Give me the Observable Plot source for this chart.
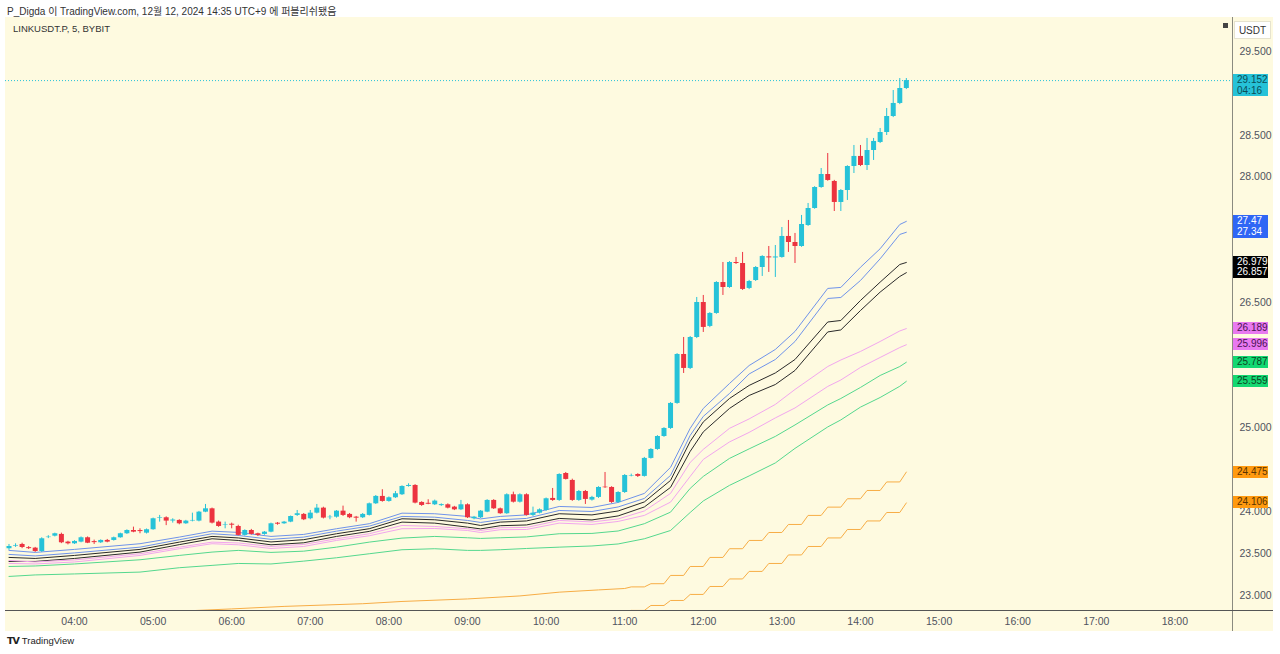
<!DOCTYPE html>
<html><head><meta charset="utf-8">
<script src="https://cdn.jsdelivr.net/npm/d3@7"></script>
<script src="https://cdn.jsdelivr.net/npm/@observablehq/plot@0.6"></script>
<style>
html,body{margin:0;padding:0;background:#fff;width:1280px;height:654px;overflow:hidden;font-family:"Liberation Sans",Arial,"Noto Sans CJK KR",sans-serif;}
#header{position:absolute;left:7px;top:3px;font-size:10px;color:#333;white-space:nowrap;}
#panel{position:absolute;left:5px;top:17px;width:1268px;height:614px;background:#fefae0;}
#panel svg{position:absolute;left:0;top:0;overflow:visible;}
#sym{position:absolute;left:8px;top:6px;font-size:9.5px;color:#333;}
#usdt{position:absolute;left:1229px;top:4px;width:37px;height:18px;background:#fff;border:1px solid #e6e3cf;box-sizing:border-box;font-size:10px;color:#333;text-align:center;line-height:17px;}
#sq{position:absolute;left:1218px;top:6px;width:5px;height:5px;background:#444;}
.vline{position:absolute;left:1227px;top:0;width:1px;height:614px;background:#8a8a80;}
.hline{position:absolute;left:0;top:593px;width:1268px;height:1px;background:#555;}
.badge{position:absolute;left:1228px;width:35px;height:12px;font-size:10px;line-height:12px;padding-left:4px;box-sizing:border-box;white-space:nowrap;}
#footer{position:absolute;left:7px;top:635px;font-size:9.5px;color:#222;white-space:nowrap;}
#footer b{font-family:"DejaVu Sans";font-weight:900;letter-spacing:-1px;margin-right:3px;}
</style></head>
<body>
<div id="header">P_Digda 이 TradingView.com, 12월 12, 2024 14:35 UTC+9 에 퍼블리쉬됐음</div>
<div id="panel">
  <div id="sym">LINKUSDT.P, 5, BYBIT</div>
</div>
<div id="footer"><b>TV</b>TradingView</div>
<script>
// ---- candle data (5-minute bars from 03:10) ----
const openV = [23.559,23.590,23.610,23.572,23.566,23.526,23.692,23.709,23.730,23.638,23.618,23.638,23.690,23.644,23.630,23.658,23.658,23.690,23.738,23.777,23.776,23.745,23.786,23.922,23.929,23.890,23.897,23.857,23.890,23.889,23.996,24.036,23.877,23.840,23.852,23.825,23.718,23.777,23.738,23.730,23.757,23.864,23.857,23.877,23.957,23.969,23.917,23.984,24.044,23.930,23.936,24.008,23.969,23.936,23.929,23.957,24.096,24.184,24.124,24.168,24.204,24.303,24.315,24.112,24.102,24.084,24.074,24.084,24.056,24.024,24.084,23.917,23.929,23.996,24.136,24.036,23.977,24.204,24.115,24.204,23.957,23.984,24.016,24.160,24.136,24.458,24.375,24.136,24.243,24.140,24.172,24.295,24.291,24.112,24.231,24.428,24.446,24.423,24.638,24.745,24.900,24.996,25.295,25.880,25.713,26.083,26.501,26.215,26.370,26.740,26.680,26.979,26.967,26.669,26.764,26.919,27.046,27.033,27.039,27.290,27.218,27.170,27.421,27.624,27.875,28.030,27.947,27.696,27.839,28.126,28.246,28.138,28.317,28.413,28.532,28.723,28.879,29.058];
const highV = [23.610,23.618,23.625,23.585,23.575,23.690,23.715,23.745,23.745,23.648,23.655,23.700,23.700,23.662,23.665,23.670,23.698,23.745,23.785,23.817,23.797,23.795,23.925,23.957,23.940,23.917,23.905,23.898,23.984,24.005,24.088,24.045,23.890,23.877,23.865,23.840,23.785,23.790,23.745,23.765,23.865,23.872,23.885,23.950,24.016,23.980,24.016,24.088,24.055,23.957,24.015,24.068,23.980,23.945,23.980,24.105,24.195,24.264,24.178,24.243,24.310,24.335,24.325,24.120,24.144,24.140,24.095,24.095,24.065,24.136,24.095,23.945,24.015,24.145,24.145,24.045,24.215,24.235,24.215,24.215,24.056,24.035,24.165,24.279,24.455,24.470,24.390,24.255,24.255,24.185,24.300,24.470,24.300,24.240,24.445,24.450,24.455,24.650,24.755,24.910,25.005,25.305,25.890,26.083,26.095,26.561,26.585,26.380,26.750,26.979,26.990,27.039,27.099,26.765,26.930,27.060,27.170,27.182,27.397,27.481,27.326,27.541,27.684,27.885,28.102,28.281,27.960,27.850,28.135,28.377,28.377,28.461,28.461,28.580,28.819,29.034,29.177,29.177];
const lowV = [23.540,23.575,23.560,23.550,23.515,23.515,23.680,23.700,23.620,23.605,23.610,23.630,23.620,23.610,23.622,23.630,23.650,23.685,23.730,23.750,23.738,23.735,23.780,23.877,23.835,23.865,23.845,23.850,23.880,23.880,23.990,23.855,23.815,23.797,23.797,23.710,23.710,23.722,23.705,23.720,23.750,23.840,23.850,23.870,23.945,23.895,23.905,23.975,23.915,23.905,23.925,23.945,23.918,23.877,23.920,23.950,24.088,24.115,24.115,24.160,24.195,24.295,24.095,24.065,24.085,24.075,24.065,24.035,24.015,24.015,23.920,23.905,23.920,23.990,24.028,23.970,23.970,24.105,24.105,23.950,23.945,23.975,24.005,24.125,24.125,24.380,24.125,24.125,24.088,24.128,24.160,24.280,24.100,24.100,24.220,24.418,24.410,24.415,24.630,24.735,24.890,24.985,25.285,25.653,25.700,26.070,26.143,26.200,26.360,26.585,26.670,26.955,26.645,26.655,26.752,26.812,26.860,26.800,27.030,27.099,26.967,27.160,27.410,27.615,27.865,27.950,27.588,27.588,27.720,28.042,28.125,28.078,28.198,28.400,28.496,28.710,28.865,29.045];
const closeV = [23.586,23.598,23.574,23.560,23.526,23.678,23.698,23.738,23.630,23.618,23.646,23.690,23.625,23.632,23.658,23.638,23.690,23.738,23.777,23.757,23.764,23.786,23.917,23.929,23.889,23.902,23.857,23.889,23.897,23.996,24.036,23.865,23.825,23.846,23.840,23.718,23.777,23.730,23.718,23.757,23.857,23.852,23.877,23.944,23.977,23.905,23.984,24.044,23.925,23.936,24.008,23.957,23.929,23.924,23.969,24.096,24.184,24.124,24.168,24.216,24.303,24.315,24.104,24.076,24.090,24.128,24.086,24.044,24.024,24.084,23.929,23.936,24.008,24.136,24.036,23.977,24.204,24.115,24.204,23.957,23.984,24.024,24.156,24.136,24.446,24.387,24.136,24.243,24.148,24.172,24.291,24.288,24.112,24.231,24.434,24.434,24.423,24.638,24.745,24.900,24.996,25.295,25.880,25.713,26.083,26.501,26.203,26.370,26.740,26.680,26.979,26.967,26.657,26.752,26.919,27.051,27.034,27.045,27.290,27.218,27.170,27.433,27.624,27.875,28.030,27.959,27.696,27.839,28.126,28.246,28.138,28.317,28.425,28.532,28.723,28.879,29.058,29.152];

// ---- indicator lines, sampled at these bar indices ----
const maBars = [0,4,10,20,26,31,35,40,45,50,55,60,65,70,72,75,79,84,89,93,97,101,104,106,110,113,117,120,125,127,130,133,136,137];
const blue1 = [23.539,23.515,23.551,23.619,23.698,23.769,23.754,23.706,23.730,23.798,23.858,23.984,23.977,23.945,23.915,23.945,23.963,24.064,24.052,24.112,24.220,24.531,24.997,25.235,25.533,25.748,25.940,26.155,26.669,26.681,26.922,27.143,27.433,27.470];
const blue2 = [23.491,23.473,23.509,23.578,23.667,23.738,23.718,23.671,23.698,23.769,23.829,23.945,23.936,23.897,23.873,23.905,23.921,24.016,24.004,24.058,24.160,24.435,24.913,25.140,25.414,25.647,25.820,26.035,26.549,26.561,26.764,27.023,27.314,27.340];
const black1 = [23.455,23.443,23.479,23.551,23.638,23.706,23.688,23.640,23.667,23.738,23.798,23.917,23.905,23.865,23.837,23.877,23.891,23.977,23.963,24.010,24.118,24.375,24.841,25.074,25.354,25.510,25.659,25.820,26.268,26.286,26.525,26.744,26.955,26.979];
const black2 = [23.407,23.407,23.443,23.519,23.608,23.678,23.658,23.606,23.630,23.706,23.766,23.877,23.865,23.817,23.796,23.834,23.843,23.921,23.903,23.951,24.058,24.292,24.722,24.955,25.235,25.390,25.521,25.689,26.149,26.173,26.405,26.625,26.812,26.857];
const pink1 = [23.419,23.401,23.425,23.499,23.578,23.638,23.628,23.586,23.610,23.678,23.738,23.837,23.825,23.798,23.777,23.810,23.813,23.897,23.879,23.915,24.010,24.220,24.590,24.746,24.997,25.110,25.283,25.462,25.736,25.814,25.916,26.035,26.161,26.189];
const pink2 = [23.383,23.377,23.401,23.479,23.559,23.619,23.606,23.562,23.586,23.658,23.714,23.798,23.801,23.777,23.753,23.786,23.789,23.865,23.849,23.885,23.957,24.116,24.423,24.626,24.835,24.949,25.122,25.241,25.498,25.575,25.725,25.844,25.963,25.996];
const green1 = [23.347,23.353,23.377,23.427,23.479,23.519,23.539,23.515,23.530,23.578,23.638,23.686,23.706,23.690,23.682,23.690,23.700,23.738,23.742,23.771,23.858,23.996,24.280,24.423,24.638,24.752,24.901,25.038,25.277,25.354,25.486,25.629,25.736,25.787];
const green2 = [23.228,23.246,23.258,23.280,23.332,23.360,23.383,23.377,23.411,23.451,23.499,23.547,23.559,23.539,23.539,23.547,23.562,23.578,23.592,23.616,23.678,23.777,23.992,24.130,24.316,24.429,24.584,24.758,25.014,25.098,25.251,25.366,25.500,25.559];

const orange1Bars = [25,27,34,42,54,60,70,78,84,90,94,95,97,98,100,101,103,104,106,107,109,110,112,113,115,116,118,119,121,122,124,125,127,128,130,131,133,134,136,137];
const orange1 = [22.798,22.816,22.840,22.870,22.902,22.929,22.959,22.995,23.040,23.067,23.084,23.103,23.103,23.141,23.141,23.240,23.240,23.347,23.347,23.455,23.455,23.559,23.559,23.658,23.658,23.753,23.753,23.849,23.849,23.957,23.957,24.056,24.056,24.156,24.156,24.255,24.255,24.357,24.357,24.475];
const orange2Bars = [90,94,95,97,98,100,101,103,104,106,107,109,110,112,113,115,116,118,119,121,122,124,125,127,128,130,131,133,134,136,137];
const orange2 = [22.720,22.774,22.822,22.822,22.881,22.881,22.941,22.941,23.013,23.013,23.108,23.108,23.198,23.198,23.288,23.288,23.383,23.383,23.485,23.485,23.586,23.586,23.688,23.688,23.789,23.789,23.891,23.891,23.992,23.992,24.106];

// ---- axis labels and price badges ----
const hourLabels = ["04:00","05:00","06:00","07:00","08:00","09:00","10:00","11:00","12:00","13:00","14:00","15:00","16:00","17:00","18:00"];
// price ticks that are not hidden behind the price badges
const priceTicks = [23.0,23.5,24.0,25.0,26.5,28.0,28.5,29.5];
const badgeValues = [27.47,27.34,26.979,26.857,26.189,25.996,25.787,25.559,24.475,24.106];
const badgeTexts = ["27.47","27.34","26.979","26.857","26.189","25.996","25.787","25.559","24.475","24.106"];
const badgeBg = ["#2f66f5","#2f66f5","#000000","#000000","#e879f0","#e879f0","#14d872","#14d872","#ff9a10","#ff9a10"];
const badgeFg = ["#ffffff","#ffffff","#ffffff","#ffffff","#4a1452","#4a1452","#0c4422","#0c4422","#5a3300","#5a3300"];
const countdown = "04:16";

const UP = "#26c2d8", DOWN = "#ec3340";
const t0 = Date.UTC(2024, 11, 12, 3, 10);
const barTime = i => new Date(t0 + i * 300000);

const candles = openV.map((o, i) => ({t: barTime(i), open: o, high: highV[i], low: lowV[i], close: closeV[i]}));
const lastClose = closeV[closeV.length - 1];

function series(bars, vals) { return bars.map((b, i) => ({t: barTime(b), v: vals[i]})); }
const lines = [
  [blue1, "#6f93ea"], [blue2, "#6f93ea"],
  [black1, "#2a2a2a"], [black2, "#2a2a2a"],
  [pink1, "#f2a6ee"], [pink2, "#f2a6ee"],
  [green1, "#55d88e"], [green2, "#55d88e"]
];

const chart = Plot.plot({
  width: 1268, height: 613,
  marginLeft: 0, marginRight: 40, marginTop: 0, marginBottom: 20,
  style: {background: "transparent", fontFamily: "'Liberation Sans', Arial, sans-serif", fontSize: "10.5px", color: "#50535e", overflow: "visible"},
  x: {type: "utc", domain: [barTime(-0.534), barTime(186.95)],
      ticks: hourLabels.map(h => new Date(`2024-12-12T${h}:00Z`)),
      tickFormat: d3.utcFormat("%H:%M"), tickSize: 0, tickPadding: 7, label: null},
  y: {domain: [22.821, 29.906], ticks: priceTicks, tickFormat: d3.format(".3f"),
      tickSize: 0, tickPadding: 6, label: null, axis: "right"},
  marks: [
    ...lines.map(([vals, c]) => Plot.line(series(maBars, vals), {x: "t", y: "v", stroke: c, strokeWidth: 1})),
    Plot.line(series(orange1Bars, orange1), {x: "t", y: "v", stroke: "#f7ad45", strokeWidth: 1, clip: true}),
    Plot.line(series(orange2Bars, orange2), {x: "t", y: "v", stroke: "#f7ad45", strokeWidth: 1, clip: true}),
    Plot.ruleY([lastClose], {stroke: UP, strokeDasharray: "1,2", strokeWidth: 1}),
    Plot.ruleX(candles, {x: "t", y1: "low", y2: "high", stroke: d => d.close >= d.open ? UP : DOWN, strokeWidth: 1}),
    Plot.ruleX(candles, {x: "t", y1: "open", y2: "close", stroke: d => d.close >= d.open ? UP : DOWN, strokeWidth: 5})
  ]
});

const panel = document.getElementById("panel");
panel.appendChild(chart);
const vl = document.createElement("div"); vl.className = "vline"; panel.appendChild(vl);
const hl = document.createElement("div"); hl.className = "hline"; panel.appendChild(hl);
const sq = document.createElement("div"); sq.id = "sq"; panel.appendChild(sq);
const us = document.createElement("div"); us.id = "usdt"; us.textContent = "USDT"; panel.appendChild(us);

const ys = chart.scale("y");
// current price badge with countdown
const cb = document.createElement("div");
cb.className = "badge";
cb.style.top = (ys.apply(lastClose) - 6) + "px";
cb.style.height = "22px";
cb.style.lineHeight = "10.5px";
cb.style.paddingTop = "1px";
cb.style.background = UP; cb.style.color = "#0b4d57";
cb.innerHTML = d3.format(".3f")(lastClose) + "<br>" + countdown;
panel.appendChild(cb);
badgeValues.forEach((v, i) => {
  const b = document.createElement("div");
  b.className = "badge";
  b.style.top = (ys.apply(v) - 6) + "px";
  b.style.background = badgeBg[i];
  b.style.color = badgeFg[i];
  b.textContent = badgeTexts[i];
  panel.appendChild(b);
});
</script>
</body></html>
